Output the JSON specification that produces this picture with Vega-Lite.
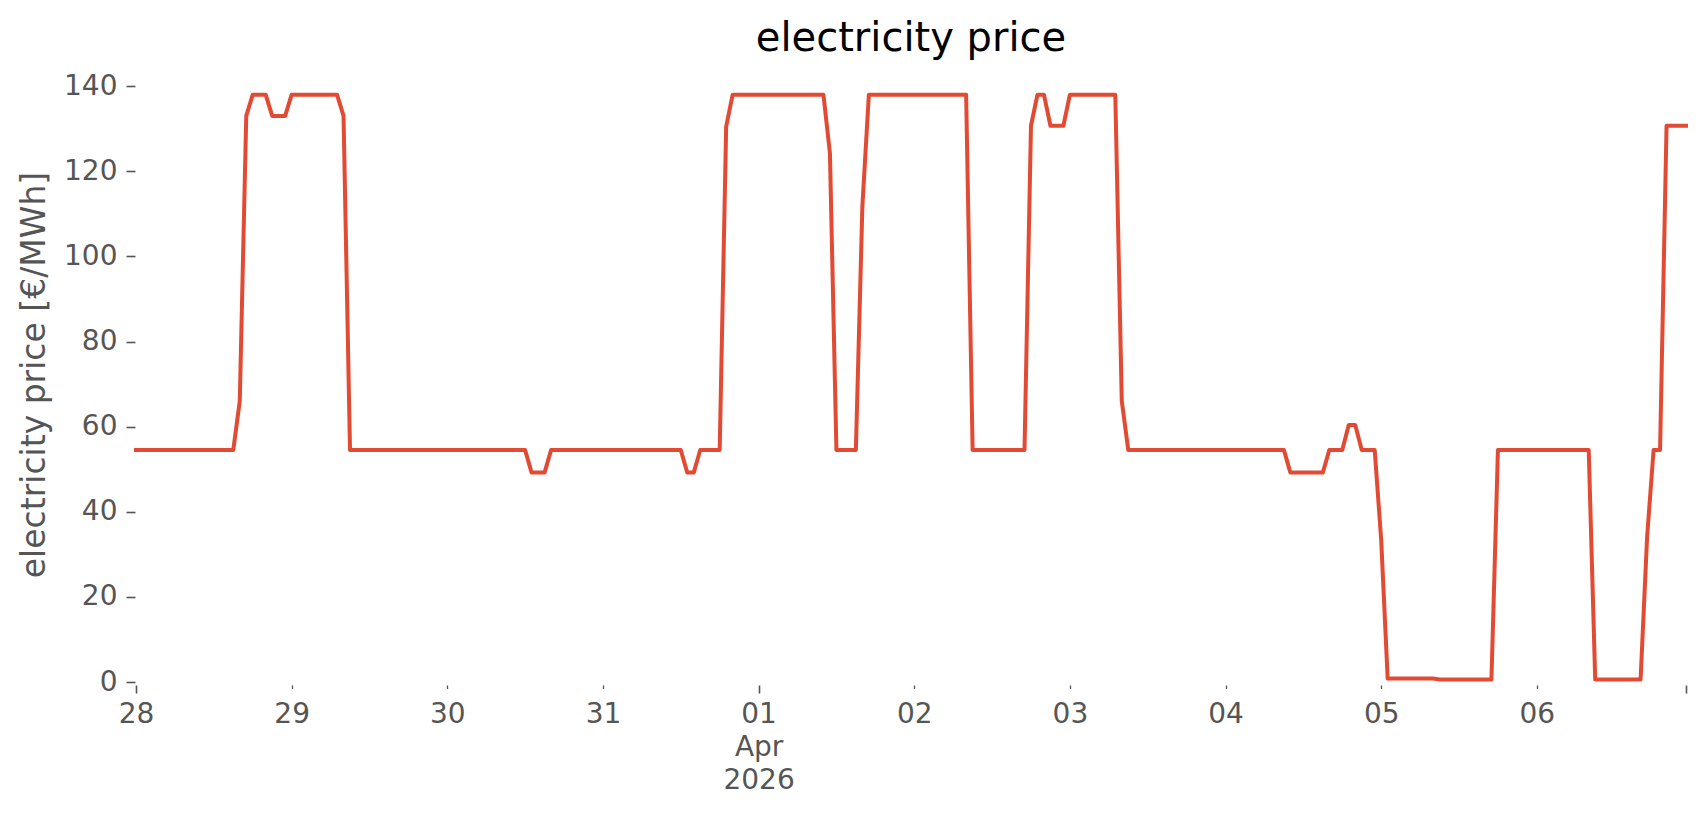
{
  "$schema": "https://vega.github.io/schema/vega-lite/v6.json",
  "width": 1550,
  "height": 615,
  "autosize": "none",
  "padding": {"left": 136, "top": 67, "right": 20, "bottom": 133},
  "background": "white",
  "config": {"view": {"stroke": null}, "font": "DejaVu Sans"},
  "title": {"text": "electricity price", "fontSize": 40, "font": "DejaVu Sans", "fontWeight": "normal", "color": "black", "offset": 8, "anchor": "middle"},
  "data": {"values": [
    {"t":"2026-03-28T00:00:00Z","p":54.5},{"t":"2026-03-28T01:00:00Z","p":54.5},{"t":"2026-03-28T02:00:00Z","p":54.5},{"t":"2026-03-28T03:00:00Z","p":54.5},
    {"t":"2026-03-28T04:00:00Z","p":54.5},{"t":"2026-03-28T05:00:00Z","p":54.5},{"t":"2026-03-28T06:00:00Z","p":54.5},{"t":"2026-03-28T07:00:00Z","p":54.5},
    {"t":"2026-03-28T08:00:00Z","p":54.5},{"t":"2026-03-28T09:00:00Z","p":54.5},{"t":"2026-03-28T10:00:00Z","p":54.5},{"t":"2026-03-28T11:00:00Z","p":54.5},
    {"t":"2026-03-28T12:00:00Z","p":54.5},{"t":"2026-03-28T13:00:00Z","p":54.5},{"t":"2026-03-28T14:00:00Z","p":54.5},{"t":"2026-03-28T15:00:00Z","p":54.5},
    {"t":"2026-03-28T16:00:00Z","p":66},{"t":"2026-03-28T17:00:00Z","p":133},{"t":"2026-03-28T18:00:00Z","p":138},{"t":"2026-03-28T19:00:00Z","p":138},
    {"t":"2026-03-28T20:00:00Z","p":138},{"t":"2026-03-28T21:00:00Z","p":133},{"t":"2026-03-28T22:00:00Z","p":133},{"t":"2026-03-28T23:00:00Z","p":133},
    {"t":"2026-03-29T00:00:00Z","p":138},{"t":"2026-03-29T01:00:00Z","p":138},{"t":"2026-03-29T02:00:00Z","p":138},{"t":"2026-03-29T03:00:00Z","p":138},
    {"t":"2026-03-29T04:00:00Z","p":138},{"t":"2026-03-29T05:00:00Z","p":138},{"t":"2026-03-29T06:00:00Z","p":138},{"t":"2026-03-29T07:00:00Z","p":138},
    {"t":"2026-03-29T08:00:00Z","p":133},{"t":"2026-03-29T09:00:00Z","p":54.5},{"t":"2026-03-29T10:00:00Z","p":54.5},{"t":"2026-03-29T11:00:00Z","p":54.5},
    {"t":"2026-03-29T12:00:00Z","p":54.5},{"t":"2026-03-29T13:00:00Z","p":54.5},{"t":"2026-03-29T14:00:00Z","p":54.5},{"t":"2026-03-29T15:00:00Z","p":54.5},
    {"t":"2026-03-29T16:00:00Z","p":54.5},{"t":"2026-03-29T17:00:00Z","p":54.5},{"t":"2026-03-29T18:00:00Z","p":54.5},{"t":"2026-03-29T19:00:00Z","p":54.5},
    {"t":"2026-03-29T20:00:00Z","p":54.5},{"t":"2026-03-29T21:00:00Z","p":54.5},{"t":"2026-03-29T22:00:00Z","p":54.5},{"t":"2026-03-29T23:00:00Z","p":54.5},
    {"t":"2026-03-30T00:00:00Z","p":54.5},{"t":"2026-03-30T01:00:00Z","p":54.5},{"t":"2026-03-30T02:00:00Z","p":54.5},{"t":"2026-03-30T03:00:00Z","p":54.5},
    {"t":"2026-03-30T04:00:00Z","p":54.5},{"t":"2026-03-30T05:00:00Z","p":54.5},{"t":"2026-03-30T06:00:00Z","p":54.5},{"t":"2026-03-30T07:00:00Z","p":54.5},
    {"t":"2026-03-30T08:00:00Z","p":54.5},{"t":"2026-03-30T09:00:00Z","p":54.5},{"t":"2026-03-30T10:00:00Z","p":54.5},{"t":"2026-03-30T11:00:00Z","p":54.5},
    {"t":"2026-03-30T12:00:00Z","p":54.5},{"t":"2026-03-30T13:00:00Z","p":49.2},{"t":"2026-03-30T14:00:00Z","p":49.2},{"t":"2026-03-30T15:00:00Z","p":49.2},
    {"t":"2026-03-30T16:00:00Z","p":54.5},{"t":"2026-03-30T17:00:00Z","p":54.5},{"t":"2026-03-30T18:00:00Z","p":54.5},{"t":"2026-03-30T19:00:00Z","p":54.5},
    {"t":"2026-03-30T20:00:00Z","p":54.5},{"t":"2026-03-30T21:00:00Z","p":54.5},{"t":"2026-03-30T22:00:00Z","p":54.5},{"t":"2026-03-30T23:00:00Z","p":54.5},
    {"t":"2026-03-31T00:00:00Z","p":54.5},{"t":"2026-03-31T01:00:00Z","p":54.5},{"t":"2026-03-31T02:00:00Z","p":54.5},{"t":"2026-03-31T03:00:00Z","p":54.5},
    {"t":"2026-03-31T04:00:00Z","p":54.5},{"t":"2026-03-31T05:00:00Z","p":54.5},{"t":"2026-03-31T06:00:00Z","p":54.5},{"t":"2026-03-31T07:00:00Z","p":54.5},
    {"t":"2026-03-31T08:00:00Z","p":54.5},{"t":"2026-03-31T09:00:00Z","p":54.5},{"t":"2026-03-31T10:00:00Z","p":54.5},{"t":"2026-03-31T11:00:00Z","p":54.5},
    {"t":"2026-03-31T12:00:00Z","p":54.5},{"t":"2026-03-31T13:00:00Z","p":49.2},{"t":"2026-03-31T14:00:00Z","p":49.2},{"t":"2026-03-31T15:00:00Z","p":54.5},
    {"t":"2026-03-31T16:00:00Z","p":54.5},{"t":"2026-03-31T17:00:00Z","p":54.5},{"t":"2026-03-31T18:00:00Z","p":54.5},{"t":"2026-03-31T19:00:00Z","p":130.5},
    {"t":"2026-03-31T20:00:00Z","p":138},{"t":"2026-03-31T21:00:00Z","p":138},{"t":"2026-03-31T22:00:00Z","p":138},{"t":"2026-03-31T23:00:00Z","p":138},
    {"t":"2026-04-01T00:00:00Z","p":138},{"t":"2026-04-01T01:00:00Z","p":138},{"t":"2026-04-01T02:00:00Z","p":138},{"t":"2026-04-01T03:00:00Z","p":138},
    {"t":"2026-04-01T04:00:00Z","p":138},{"t":"2026-04-01T05:00:00Z","p":138},{"t":"2026-04-01T06:00:00Z","p":138},{"t":"2026-04-01T07:00:00Z","p":138},
    {"t":"2026-04-01T08:00:00Z","p":138},{"t":"2026-04-01T09:00:00Z","p":138},{"t":"2026-04-01T10:00:00Z","p":138},{"t":"2026-04-01T11:00:00Z","p":124.2},
    {"t":"2026-04-01T12:00:00Z","p":54.5},{"t":"2026-04-01T13:00:00Z","p":54.5},{"t":"2026-04-01T14:00:00Z","p":54.5},{"t":"2026-04-01T15:00:00Z","p":54.5},
    {"t":"2026-04-01T16:00:00Z","p":111.7},{"t":"2026-04-01T17:00:00Z","p":138},{"t":"2026-04-01T18:00:00Z","p":138},{"t":"2026-04-01T19:00:00Z","p":138},
    {"t":"2026-04-01T20:00:00Z","p":138},{"t":"2026-04-01T21:00:00Z","p":138},{"t":"2026-04-01T22:00:00Z","p":138},{"t":"2026-04-01T23:00:00Z","p":138},
    {"t":"2026-04-02T00:00:00Z","p":138},{"t":"2026-04-02T01:00:00Z","p":138},{"t":"2026-04-02T02:00:00Z","p":138},{"t":"2026-04-02T03:00:00Z","p":138},
    {"t":"2026-04-02T04:00:00Z","p":138},{"t":"2026-04-02T05:00:00Z","p":138},{"t":"2026-04-02T06:00:00Z","p":138},{"t":"2026-04-02T07:00:00Z","p":138},
    {"t":"2026-04-02T08:00:00Z","p":138},{"t":"2026-04-02T09:00:00Z","p":54.5},{"t":"2026-04-02T10:00:00Z","p":54.5},{"t":"2026-04-02T11:00:00Z","p":54.5},
    {"t":"2026-04-02T12:00:00Z","p":54.5},{"t":"2026-04-02T13:00:00Z","p":54.5},{"t":"2026-04-02T14:00:00Z","p":54.5},{"t":"2026-04-02T15:00:00Z","p":54.5},
    {"t":"2026-04-02T16:00:00Z","p":54.5},{"t":"2026-04-02T17:00:00Z","p":54.5},{"t":"2026-04-02T18:00:00Z","p":130.7},{"t":"2026-04-02T19:00:00Z","p":138},
    {"t":"2026-04-02T20:00:00Z","p":138},{"t":"2026-04-02T21:00:00Z","p":130.7},{"t":"2026-04-02T22:00:00Z","p":130.7},{"t":"2026-04-02T23:00:00Z","p":130.7},
    {"t":"2026-04-03T00:00:00Z","p":138},{"t":"2026-04-03T01:00:00Z","p":138},{"t":"2026-04-03T02:00:00Z","p":138},{"t":"2026-04-03T03:00:00Z","p":138},
    {"t":"2026-04-03T04:00:00Z","p":138},{"t":"2026-04-03T05:00:00Z","p":138},{"t":"2026-04-03T06:00:00Z","p":138},{"t":"2026-04-03T07:00:00Z","p":138},
    {"t":"2026-04-03T08:00:00Z","p":66},{"t":"2026-04-03T09:00:00Z","p":54.5},{"t":"2026-04-03T10:00:00Z","p":54.5},{"t":"2026-04-03T11:00:00Z","p":54.5},
    {"t":"2026-04-03T12:00:00Z","p":54.5},{"t":"2026-04-03T13:00:00Z","p":54.5},{"t":"2026-04-03T14:00:00Z","p":54.5},{"t":"2026-04-03T15:00:00Z","p":54.5},
    {"t":"2026-04-03T16:00:00Z","p":54.5},{"t":"2026-04-03T17:00:00Z","p":54.5},{"t":"2026-04-03T18:00:00Z","p":54.5},{"t":"2026-04-03T19:00:00Z","p":54.5},
    {"t":"2026-04-03T20:00:00Z","p":54.5},{"t":"2026-04-03T21:00:00Z","p":54.5},{"t":"2026-04-03T22:00:00Z","p":54.5},{"t":"2026-04-03T23:00:00Z","p":54.5},
    {"t":"2026-04-04T00:00:00Z","p":54.5},{"t":"2026-04-04T01:00:00Z","p":54.5},{"t":"2026-04-04T02:00:00Z","p":54.5},{"t":"2026-04-04T03:00:00Z","p":54.5},
    {"t":"2026-04-04T04:00:00Z","p":54.5},{"t":"2026-04-04T05:00:00Z","p":54.5},{"t":"2026-04-04T06:00:00Z","p":54.5},{"t":"2026-04-04T07:00:00Z","p":54.5},
    {"t":"2026-04-04T08:00:00Z","p":54.5},{"t":"2026-04-04T09:00:00Z","p":54.5},{"t":"2026-04-04T10:00:00Z","p":49.2},{"t":"2026-04-04T11:00:00Z","p":49.2},
    {"t":"2026-04-04T12:00:00Z","p":49.2},{"t":"2026-04-04T13:00:00Z","p":49.2},{"t":"2026-04-04T14:00:00Z","p":49.2},{"t":"2026-04-04T15:00:00Z","p":49.2},
    {"t":"2026-04-04T16:00:00Z","p":54.5},{"t":"2026-04-04T17:00:00Z","p":54.5},{"t":"2026-04-04T18:00:00Z","p":54.5},{"t":"2026-04-04T19:00:00Z","p":60.4},
    {"t":"2026-04-04T20:00:00Z","p":60.4},{"t":"2026-04-04T21:00:00Z","p":54.5},{"t":"2026-04-04T22:00:00Z","p":54.5},{"t":"2026-04-04T23:00:00Z","p":54.5},
    {"t":"2026-04-05T00:00:00Z","p":33.4},{"t":"2026-04-05T01:00:00Z","p":0.8},{"t":"2026-04-05T02:00:00Z","p":0.8},{"t":"2026-04-05T03:00:00Z","p":0.8},
    {"t":"2026-04-05T04:00:00Z","p":0.8},{"t":"2026-04-05T05:00:00Z","p":0.8},{"t":"2026-04-05T06:00:00Z","p":0.8},{"t":"2026-04-05T07:00:00Z","p":0.8},
    {"t":"2026-04-05T08:00:00Z","p":0.8},{"t":"2026-04-05T09:00:00Z","p":0.6},{"t":"2026-04-05T10:00:00Z","p":0.6},{"t":"2026-04-05T11:00:00Z","p":0.6},
    {"t":"2026-04-05T12:00:00Z","p":0.6},{"t":"2026-04-05T13:00:00Z","p":0.6},{"t":"2026-04-05T14:00:00Z","p":0.6},{"t":"2026-04-05T15:00:00Z","p":0.6},
    {"t":"2026-04-05T16:00:00Z","p":0.6},{"t":"2026-04-05T17:00:00Z","p":0.6},{"t":"2026-04-05T18:00:00Z","p":54.5},{"t":"2026-04-05T19:00:00Z","p":54.5},
    {"t":"2026-04-05T20:00:00Z","p":54.5},{"t":"2026-04-05T21:00:00Z","p":54.5},{"t":"2026-04-05T22:00:00Z","p":54.5},{"t":"2026-04-05T23:00:00Z","p":54.5},
    {"t":"2026-04-06T00:00:00Z","p":54.5},{"t":"2026-04-06T01:00:00Z","p":54.5},{"t":"2026-04-06T02:00:00Z","p":54.5},{"t":"2026-04-06T03:00:00Z","p":54.5},
    {"t":"2026-04-06T04:00:00Z","p":54.5},{"t":"2026-04-06T05:00:00Z","p":54.5},{"t":"2026-04-06T06:00:00Z","p":54.5},{"t":"2026-04-06T07:00:00Z","p":54.5},
    {"t":"2026-04-06T08:00:00Z","p":54.5},{"t":"2026-04-06T09:00:00Z","p":0.6},{"t":"2026-04-06T10:00:00Z","p":0.6},{"t":"2026-04-06T11:00:00Z","p":0.6},
    {"t":"2026-04-06T12:00:00Z","p":0.6},{"t":"2026-04-06T13:00:00Z","p":0.6},{"t":"2026-04-06T14:00:00Z","p":0.6},{"t":"2026-04-06T15:00:00Z","p":0.6},
    {"t":"2026-04-06T16:00:00Z","p":0.6},{"t":"2026-04-06T17:00:00Z","p":34},{"t":"2026-04-06T18:00:00Z","p":54.5},{"t":"2026-04-06T19:00:00Z","p":54.5},
    {"t":"2026-04-06T20:00:00Z","p":130.7},{"t":"2026-04-06T21:00:00Z","p":130.7},{"t":"2026-04-06T22:00:00Z","p":130.7},{"t":"2026-04-06T23:00:00Z","p":130.7}
  ]},
  "layer": [
    {
      "mark": {"type": "line", "color": "#E24A33", "strokeWidth": 4, "strokeJoin": "round", "strokeCap": "square", "clip": false},
      "encoding": {
        "x": {
          "field": "t", "type": "temporal",
          "scale": {"type": "utc", "nice": false, "domain": [{"year": 2026, "month": 3, "date": 28, "utc": true}, {"year": 2026, "month": 4, "date": 6, "hours": 23, "utc": true}]},
          "axis": {
            "values": [
              {"year": 2026, "month": 3, "date": 29, "utc": true},
              {"year": 2026, "month": 3, "date": 30, "utc": true},
              {"year": 2026, "month": 3, "date": 31, "utc": true},
              {"year": 2026, "month": 4, "date": 2, "utc": true},
              {"year": 2026, "month": 4, "date": 3, "utc": true},
              {"year": 2026, "month": 4, "date": 4, "utc": true},
              {"year": 2026, "month": 4, "date": 5, "utc": true},
              {"year": 2026, "month": 4, "date": 6, "utc": true}
            ],
            "labelExpr": "utcFormat(datum.value, '%d')",
            "title": null, "domain": false, "grid": false,
            "offset": 3, "tickSize": 3.5, "tickWidth": 1.3, "tickColor": "#555555",
            "labelFontSize": 28, "labelColor": "#555555", "labelFont": "DejaVu Sans",
            "labelPadding": 12, "labelOverlap": false, "labelFlush": false, "labelBound": false
          }
        },
        "y": {
          "field": "p", "type": "quantitative",
          "scale": {"domain": [0, 144.5], "nice": false, "zero": true},
          "axis": {
            "values": [0, 20, 40, 60, 80, 100, 120, 140],
            "title": "electricity price [€/MWh]",
            "titleFontSize": 33, "titleColor": "#555555", "titleFontWeight": "normal", "titleFont": "DejaVu Sans",
            "titlePadding": 12,
            "labelFontSize": 28, "labelColor": "#555555", "labelFont": "DejaVu Sans",
            "tickColor": "#555555", "tickSize": 9, "tickWidth": 1.6,
            "domain": false, "grid": false, "labelPadding": 9, "offset": 1, "labelOverlap": false, "labelFlush": false, "labelBound": false
          }
        }
      }
    },
    {
      "mark": {"type": "line", "opacity": 0},
      "encoding": {
        "x": {
          "field": "t", "type": "temporal",
          "axis": {
            "orient": "bottom",
            "values": [
              {"year": 2026, "month": 3, "date": 28, "utc": true},
              {"year": 2026, "month": 4, "date": 1, "utc": true},
              {"year": 2026, "month": 4, "date": 6, "hours": 23, "utc": true}
            ],
            "labelExpr": "utcdate(datum.value) == 1 ? ['01', 'Apr', '2026'] : (utcdate(datum.value) == 28 ? '28' : '')",
            "title": null, "domain": false, "grid": false,
            "offset": 3, "tickSize": 8, "tickWidth": 1.6, "tickColor": "#555555",
            "labelFontSize": 28, "labelColor": "#555555", "labelFont": "DejaVu Sans", "labelLineHeight": 33,
            "labelPadding": 7.5, "labelOverlap": false, "labelFlush": false, "labelBound": false
          }
        },
        "y": {"field": "p", "type": "quantitative"}
      }
    }
  ],
  "resolve": {"axis": {"x": "independent"}}
}
